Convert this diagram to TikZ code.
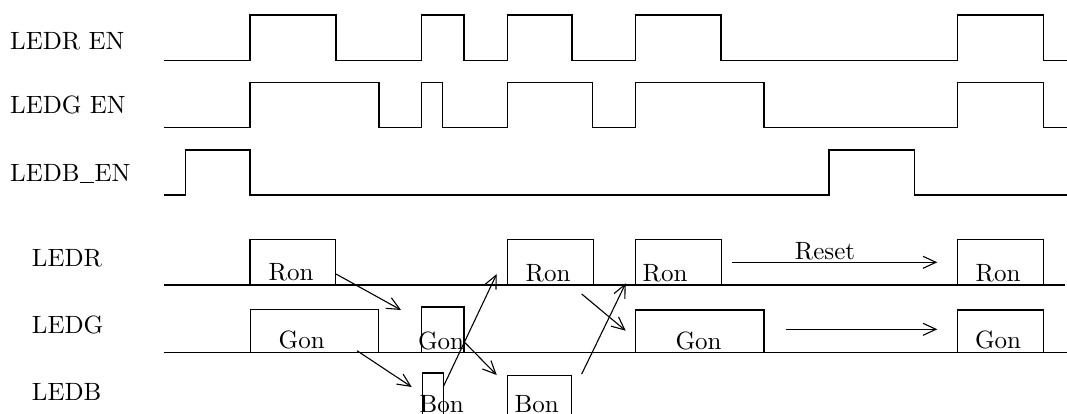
\documentclass[tikz,border=0pt]{standalone}
\usetikzlibrary{arrows.meta}
\font\bigrm=cmr10 at 25pt
\newcommand{\myunder}{\kern0.5pt\rule[-1.6pt]{14pt}{1.3pt}\kern0.5pt}
\begin{document}
\begin{tikzpicture}[x=1pt,y=-1pt,
  every node/.style={font=\bigrm, inner sep=0pt},
  lbl/.style={anchor=base west},
  txt/.style={anchor=base},
  wave/.style={line width=1.4pt, line join=miter},
  pulsebox/.style={line width=1.4pt},
  flow/.style={line width=1.1pt, -{Straight Barb[length=13pt,width=12pt,line width=1.1pt]}}]
\useasboundingbox (0,0) rectangle (1067,414);
\clip (0,0) rectangle (1067,414);
\fill[white] (0,0) rectangle (1067,414);

% labels
\node[lbl] (lren) at (10,50) {LEDR EN};
\node[lbl] (lgen) at (10,113.3) {LEDG EN};
\node[lbl] (lben) at (10,181.7) {LEDB\myunder EN};
\node[lbl] (lr) at (31.7,266.7) {LEDR};
\node[lbl] (lg) at (31.7,333.3) {LEDG};
\node[lbl] (lb) at (31.7,400) {LEDB};

% enable waveforms
\draw[wave] (164,60.7) -- (250,60.7) -- (250,15) -- (336,15) -- (336,60.7)
  -- (421.5,60.7) -- (421.5,15) -- (464,15) -- (464,60.7)
  -- (507.2,60.7) -- (507.2,15) -- (572,15) -- (572,60.7)
  -- (635.5,60.7) -- (635.5,15) -- (721,15) -- (721,60.7)
  -- (957.3,60.7) -- (957.3,15) -- (1043.3,15) -- (1043.3,60.7) -- (1067,60.7);
\draw[wave] (164,127.3) -- (250,127.3) -- (250,82.7) -- (378.8,82.7) -- (378.8,127.3)
  -- (421.5,127.3) -- (421.5,82.7) -- (442.5,82.7) -- (442.5,127.3)
  -- (507.2,127.3) -- (507.2,82.7) -- (592.7,82.7) -- (592.7,127.3)
  -- (635.5,127.3) -- (635.5,82.7) -- (764,82.7) -- (764,127.3)
  -- (957.3,127.3) -- (957.3,82.7) -- (1043.3,82.7) -- (1043.3,127.3) -- (1067,127.3);
\draw[wave] (164,195) -- (185.7,195) -- (185.7,150) -- (250,150) -- (250,195)
  -- (829,195) -- (829,150) -- (914.6,150) -- (914.6,195) -- (1067,195);

% lower baselines
\draw[wave] (164,285) -- (1065,285);
\draw[wave] (164,352.3) -- (1067,352.3);

% LEDR boxes
\draw[pulsebox] (250,285) rectangle (335.7,239.3);
\draw[pulsebox] (507.5,285) rectangle (593.3,239.3);
\draw[pulsebox] (635.7,285) rectangle (721.5,239.3);
\draw[pulsebox] (957.3,285) rectangle (1043.3,239.3);
\node[txt] (ron1) at (291,280) {Ron};
\node[txt] (ron2) at (548,281.7) {Ron};
\node[txt] (ron3) at (665,281.7) {Ron};
\node[txt] (ron4) at (998,281.7) {Ron};

% LEDG boxes
\draw[pulsebox] (250.5,352.3) rectangle (378.5,309.5);
\draw[pulsebox] (421.7,352.3) rectangle (464,307);
\draw[pulsebox] (635.7,352.3) rectangle (764,310);
\draw[pulsebox] (957.3,352.3) rectangle (1043.3,310);
\node[txt] (gon1) at (301.7,348.3) {Gon};
\node[txt] (gon2) at (441,349) {Gon};
\node[txt] (gon3) at (698.6,349) {Gon};
\node[txt] (gon4) at (998,348.3) {Gon};

% LEDB boxes
\draw[pulsebox] (422.3,425) rectangle (443.3,373);
\draw[pulsebox] (507.7,425) rectangle (571.7,375.5);
\node[txt] (bon1) at (441.7,412.5) {Bon};
\node[txt] (bon2) at (536.7,412.5) {Bon};

% arrows
\coordinate (a1s) at (336,274);   \coordinate (a1e) at (401,310);
\coordinate (a2s) at (357,350.7); \coordinate (a2e) at (411.7,387);
\coordinate (a3s) at (443.3,386.7); \coordinate (a3e) at (496.7,274);
\coordinate (a4s) at (464,341.7); \coordinate (a4e) at (496.7,375);
\coordinate (a5s) at (581.7,294); \coordinate (a5e) at (625.7,330.7);
\coordinate (a6s) at (581.7,374); \coordinate (a6e) at (625.7,283.3);
\coordinate (a7s) at (731.7,262.3); \coordinate (a7e) at (937.3,262.3);
\coordinate (a8s) at (786,329.3); \coordinate (a8e) at (937.3,329.3);
\draw[flow] (a1s) -- (a1e);
\draw[flow] (a2s) -- (a2e);
\draw[flow] (a3s) -- (a3e);
\draw[flow] (a4s) -- (a4e);
\draw[flow] (a5s) -- (a5e);
\draw[flow] (a6s) -- (a6e);
\draw[flow] (a7s) -- (a7e);
\draw[flow] (a8s) -- (a8e);
\node[txt] (reset) at (825,259.3) {Reset};
\end{tikzpicture}
\end{document}
